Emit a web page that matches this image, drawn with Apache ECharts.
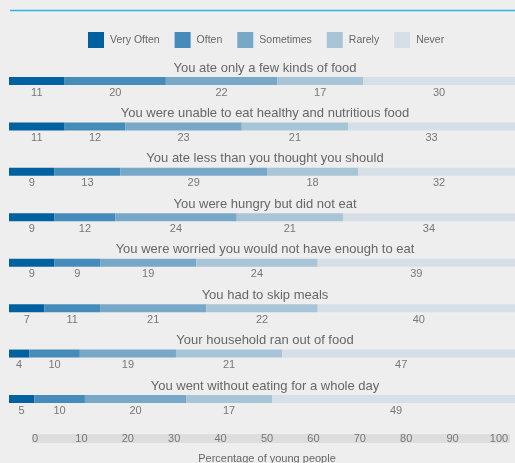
<!DOCTYPE html>
<html>
<head>
<meta charset="utf-8">
<script src="https://cdn.jsdelivr.net/npm/echarts@6/dist/echarts.min.js"></script>
<style>
    html, body { margin: 0; padding: 0; background: #eeeeee; }
    #chart { width: 515px; height: 463px; }
</style>
</head>
<body>
<div id="chart"></div>
<script>
    var questions = [
        'You ate only a few kinds of food',
        'You were unable to eat healthy and nutritious food',
        'You ate less than you thought you should',
        'You were hungry but did not eat',
        'You were worried you would not have enough to eat',
        'You had to skip meals',
        'Your household ran out of food',
        'You went without eating for a whole day'
    ]
    var veryOften = [11, 11, 9, 9, 9, 7, 4, 5]
    var often = [20, 12, 13, 12, 9, 11, 10, 10]
    var sometimes = [22, 23, 29, 24, 19, 21, 19, 20]
    var rarely = [17, 21, 18, 21, 24, 22, 21, 17]
    var never = [30, 33, 32, 34, 39, 40, 47, 49]
    var axisTicks = [0, 10, 20, 30, 40, 50, 60, 70, 80, 90, 100]

    var seriesDefs = [
        { name: 'Very Often', data: veryOften, color: '#0061a0' },
        { name: 'Often', data: often, color: '#468cba' },
        { name: 'Sometimes', data: sometimes, color: '#77a8c8' },
        { name: 'Rarely', data: rarely, color: '#a8c5d8' },
        { name: 'Never', data: never, color: '#d6dfe6' }
    ]

    var font = '"Liberation Sans", Arial, sans-serif'
    var chart = echarts.init(document.getElementById('chart'))

    var option = {
        backgroundColor: '#eeeeee',
        animation: false,
        textStyle: { fontFamily: font },
        legend: {
            data: seriesDefs.map(function (s) { return s.name }),
            top: 32,
            left: 88,
            padding: 0,
            icon: 'rect',
            itemWidth: 16,
            itemHeight: 16,
            itemGap: 15,
            textStyle: { fontSize: 10.5, color: '#666666', fontFamily: font, padding: [0, 0, 0, 1] }
        },
        graphic: [
            {
                type: 'line',
                shape: { x1: 10, y1: 10.5, x2: 515, y2: 10.5 },
                style: { stroke: '#2cb4e6', lineWidth: 1.5 }
            },
            {
                type: 'rect',
                z: -1,
                shape: { x: 32, y: 434, width: 478, height: 9 },
                style: { fill: '#dddddd' }
            }
        ],
        grid: [
            { left: 9, right: 0, top: 58.3, bottom: 41.3 },
            { left: 35, right: 16, top: 434, height: 19 }
        ],
        xAxis: [
            {
                gridIndex: 0,
                type: 'value',
                min: 0,
                max: 100,
                show: false
            },
            {
                gridIndex: 1,
                type: 'value',
                position: 'bottom',
                min: axisTicks[0],
                max: axisTicks[axisTicks.length - 1],
                interval: 10,
                axisLine: { show: false, onZero: false },
                axisTick: { show: false },
                splitLine: { show: false },
                axisLabel: {
                    margin: 0,
                    verticalAlign: 'middle',
                    fontSize: 11,
                    color: '#777777',
                    fontFamily: font
                },
                name: 'Percentage of young people',
                nameLocation: 'middle',
                nameGap: 15,
                nameTextStyle: { fontSize: 11, color: '#666666', fontFamily: font }
            }
        ],
        yAxis: [
            {
                gridIndex: 0,
                type: 'category',
                inverse: true,
                data: questions,
                axisLine: { show: false },
                axisTick: { show: false },
                axisLabel: {
                    margin: -256,
                    align: 'center',
                    verticalAlign: 'bottom',
                    lineHeight: 16,
                    padding: [0, 0, 5, 0],
                    fontSize: 13,
                    color: '#666666',
                    fontFamily: font
                }
            },
            {
                gridIndex: 1,
                type: 'value',
                min: 0,
                max: 1,
                show: false
            }
        ],
        series: seriesDefs.map(function (s) {
            return {
                name: s.name,
                type: 'bar',
                stack: 'total',
                xAxisIndex: 0,
                yAxisIndex: 0,
                barWidth: 8,
                clip: false,
                itemStyle: { color: s.color },
                label: {
                    show: true,
                    position: 'bottom',
                    distance: 2,
                    fontSize: 11,
                    color: '#777777',
                    fontFamily: font
                },
                data: s.data
            }
        })
    }

    chart.setOption(option)
</script>
</body>
</html>
